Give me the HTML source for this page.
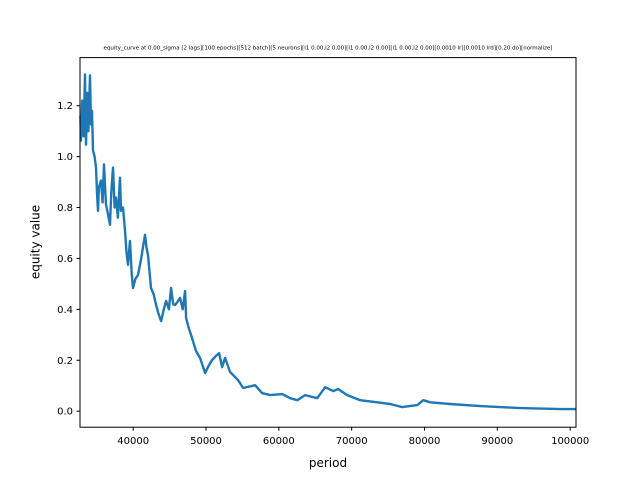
<!DOCTYPE html>
<html><head><meta charset="utf-8"><style>
body{margin:0;background:#fff;}
svg{display:block;font-family:"DejaVu Sans","Liberation Sans",sans-serif;}
</style></head><body>
<svg width="640" height="480" viewBox="0 0 640 480">
<rect width="640" height="480" fill="#fff"/>
<text x="328" y="49.5" font-size="5.5" text-anchor="middle">equity_curve at 0.00_sigma [2 lags][100 epochs][512 batch][5 neurons][l1 0.00,l2 0.00][l1 0.00,l2 0.00][l1 0.00,l2 0.00][0.0010 lr][0.0010 lrd][0.20 do][normalize]</text>
<g id="plot"></g>
<rect x="80" y="57.6" width="496" height="369.6" fill="none" stroke="#000" stroke-width="1"/>
<g id="xt"></g>
<g id="yt"></g>
<text x="328" y="467" font-size="12" text-anchor="middle">period</text>
<text x="0" y="0" font-size="12" text-anchor="middle" transform="translate(39.5,242) rotate(-90)">equity value</text>
</svg>
<script>
const periods=[32750,32837,33000,33200,33387,33450,33524,33700,33850,34074,34150,34211,34350,34486,34700,34898,35050,35173,35300,35585,35800,35998,36150,36272,36500,36822,37000,37234,37450,37646,37900,38196,38333,38600,38883,39100,39295,39570,39800,39982,40300,40669,41100,41631,41850,42043,42455,42800,43142,43500,43829,44200,44516,44900,45203,45500,45753,46100,46440,46800,47127,47264,47600,47951,48638,49188,49875,50400,50837,51300,51799,52211,52623,53310,54409,55096,56745,57707,58806,60455,61554,62516,63615,65264,66363,67462,68149,69386,71172,73508,75294,76943,79004,79828,80790,83538,87660,93156,98652,100800];
const equity=[1.160,1.063,1.220,1.080,1.323,1.150,1.047,1.250,1.100,1.319,1.200,1.126,1.180,1.024,1.000,0.957,0.850,0.787,0.880,0.906,0.820,0.969,0.880,0.811,0.780,0.732,0.860,0.957,0.800,0.839,0.760,0.917,0.787,0.800,0.709,0.620,0.575,0.669,0.540,0.484,0.520,0.535,0.600,0.693,0.640,0.614,0.484,0.460,0.417,0.380,0.354,0.400,0.433,0.400,0.484,0.420,0.417,0.430,0.445,0.400,0.472,0.366,0.330,0.299,0.236,0.209,0.150,0.180,0.201,0.215,0.228,0.173,0.209,0.154,0.122,0.091,0.102,0.071,0.063,0.067,0.051,0.043,0.063,0.051,0.094,0.079,0.087,0.063,0.043,0.035,0.028,0.016,0.024,0.043,0.035,0.028,0.020,0.012,0.008,0.008];
const xTicks=[40000,50000,60000,70000,80000,90000,100000];
const yTicks=[0.0,0.2,0.4,0.6,0.8,1.0,1.2];
const xMin=32700,xMax=100800,yMin=-0.063,yMax=1.389;
const L=80,R=576,T=57.6,B=427.2;
const sx=v=>L+(v-xMin)/(xMax-xMin)*(R-L);
const sy=v=>B-(v-yMin)/(yMax-yMin)*(B-T);
const NS="http://www.w3.org/2000/svg";
const plot=document.getElementById('plot');
let d=periods.map((p,i)=>(i?'L':'M')+sx(p).toFixed(1)+','+sy(equity[i]).toFixed(1)).join('');
const line=document.createElementNS(NS,'path');
line.setAttribute('d',d);line.setAttribute('fill','none');line.setAttribute('stroke','#1f77b4');
line.setAttribute('stroke-width','2.4');line.setAttribute('stroke-linejoin','round');


plot.appendChild(line);
const xt=document.getElementById('xt');
xTicks.forEach(t=>{
 const x=sx(t);
 const l=document.createElementNS(NS,'line');
 l.setAttribute('x1',x);l.setAttribute('x2',x);l.setAttribute('y1',B);l.setAttribute('y2',B+3.5);l.setAttribute('stroke','#000');
 
 
 xt.appendChild(l);
 const tx=document.createElementNS(NS,'text');
 tx.setAttribute('x',x);tx.setAttribute('y',B+17);tx.setAttribute('font-size','10');tx.setAttribute('text-anchor','middle');
 tx.textContent=t;
 
 
 xt.appendChild(tx);
});
const yt=document.getElementById('yt');
yTicks.forEach(t=>{
 const y=sy(t);
 const l=document.createElementNS(NS,'line');
 l.setAttribute('x1',L-3.5);l.setAttribute('x2',L);l.setAttribute('y1',y);l.setAttribute('y2',y);l.setAttribute('stroke','#000');
 
 
 yt.appendChild(l);
 const tx=document.createElementNS(NS,'text');
 tx.setAttribute('x',L-7);tx.setAttribute('y',y+3.5);tx.setAttribute('font-size','10');tx.setAttribute('text-anchor','end');
 tx.textContent=t.toFixed(1);
 
 
 yt.appendChild(tx);
});
</script>
</body></html>
